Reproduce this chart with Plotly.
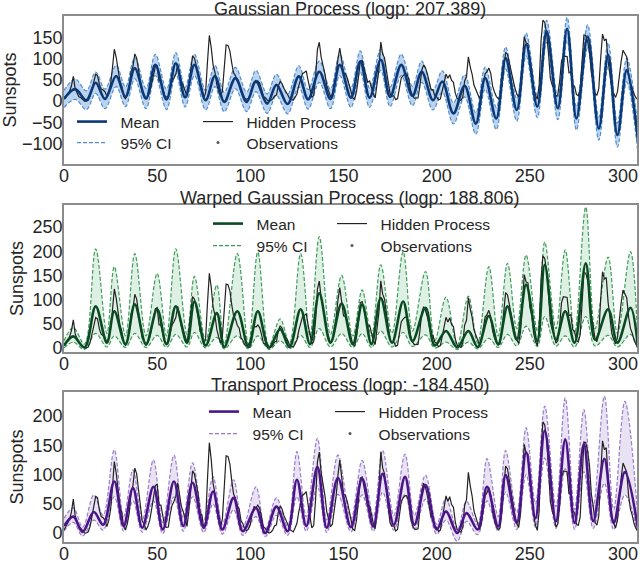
import plotly.graph_objects as go

# ---------------- data ----------------
# hidden process: yearly sunspot numbers, index 0..308
hidden = [
    5.0, 11.0, 16.0, 23.0, 36.0, 58.0, 29.0, 20.0, 10.0, 8.0,
    3.0, 0.0, 0.0, 2.0, 11.0, 27.0, 47.0, 63.0, 60.0, 39.0,
    28.0, 26.0, 22.0, 11.0, 21.0, 40.0, 78.0, 122.0, 103.0, 73.0,
    47.0, 35.0, 11.0, 5.0, 16.0, 34.0, 70.0, 81.0, 111.0, 101.0,
    73.0, 40.0, 20.0, 16.0, 5.0, 11.0, 22.0, 40.0, 60.0, 80.9,
    83.4, 47.7, 47.8, 30.7, 12.2, 9.6, 10.2, 32.4, 47.6, 54.0,
    62.9, 85.9, 61.2, 45.1, 36.4, 20.9, 11.4, 37.8, 69.8, 106.1,
    100.8, 81.6, 66.5, 34.8, 30.6, 7.0, 19.8, 92.5, 154.4, 125.9,
    84.8, 68.1, 38.5, 22.8, 10.2, 24.1, 82.9, 132.0, 130.9, 118.1,
    89.9, 66.6, 60.0, 46.9, 41.0, 21.3, 16.0, 6.4, 4.1, 6.8,
    14.5, 34.0, 45.0, 43.1, 47.5, 42.2, 28.1, 10.1, 8.1, 2.5,
    0.0, 1.4, 5.0, 12.2, 13.9, 35.4, 45.8, 41.1, 30.1, 23.9,
    15.6, 6.6, 4.0, 1.8, 8.5, 16.6, 36.3, 49.6, 64.2, 67.0,
    70.9, 47.8, 27.5, 8.5, 13.2, 56.9, 121.5, 138.3, 103.2, 85.7,
    64.6, 36.7, 24.2, 10.7, 15.0, 40.1, 61.5, 98.5, 124.7, 96.3,
    66.6, 64.5, 54.1, 39.0, 20.6, 6.7, 4.3, 22.7, 54.8, 93.8,
    95.8, 77.2, 59.1, 44.0, 47.0, 30.5, 16.3, 7.3, 37.6, 74.0,
    139.0, 111.2, 101.6, 66.2, 44.7, 17.0, 11.3, 12.4, 3.4, 6.0,
    32.3, 54.3, 59.7, 63.7, 63.5, 52.2, 25.4, 13.1, 6.8, 6.3,
    7.1, 35.6, 73.0, 85.1, 78.0, 64.0, 41.8, 26.2, 26.7, 12.1,
    9.5, 2.7, 5.0, 24.4, 42.0, 63.5, 53.8, 62.0, 48.5, 43.9,
    18.6, 5.7, 3.6, 1.4, 9.6, 47.4, 57.1, 103.9, 80.6, 63.6,
    37.6, 26.1, 14.2, 5.8, 16.7, 44.3, 63.9, 69.0, 77.8, 64.9,
    35.7, 21.2, 11.1, 5.7, 8.7, 36.1, 79.7, 114.4, 109.6, 88.8,
    67.8, 47.5, 30.6, 16.3, 9.6, 33.2, 92.6, 151.6, 136.3, 134.7,
    83.9, 69.4, 31.5, 13.9, 4.4, 38.0, 141.7, 190.2, 184.8, 159.0,
    112.3, 53.9, 37.6, 27.9, 10.2, 15.1, 47.0, 93.8, 105.9, 105.5,
    104.5, 66.6, 68.9, 38.0, 34.5, 15.5, 12.6, 27.5, 92.5, 155.4,
    154.6, 140.4, 115.9, 66.6, 45.9, 17.9, 13.4, 29.4, 100.2, 157.6,
    142.6, 145.7, 94.3, 54.6, 29.9, 17.5, 8.6, 21.5, 64.3, 93.3,
    119.6, 111.0, 104.0, 63.7, 40.4, 29.8, 15.2, 7.5, 2.9,
]
hidden_x = list(range(len(hidden)))

# Gaussian process: mean and 95% CI read at peaks / troughs
gp_x = [0, 6, 12, 17, 22, 28, 33, 38, 44, 49, 55, 60, 65, 70, 76, 81, 86, 92, 98, 103,
        109, 114, 120, 126, 131, 137, 143, 148, 154, 159, 164, 170, 175, 181, 187, 192, 198, 203, 209, 215,
        221, 226, 232, 237, 243, 248, 254, 259, 265, 270, 275, 281, 287, 292, 297, 302, 308]
gp_mean = [5, 28, 2, 43, 5, 59, 10, 77, 6, 85, 4, 89, 9, 85, 2, 59, -2, 54, -2, 47,
           -6, 38, -7, 58, 4, 69, 5, 85, 8, 93, 8, 97, 10, 85, 12, 69, 2, 46, -29, 36,
           -53, 54, -41, 101, -21, 133, -13, 164, -17, 170, -41, 152, -65, 109, -80, 73, -92]
gp_upper = [25, 52, 24, 68, 28, 84, 33, 102, 30, 110, 28, 114, 32, 110, 25, 84, 21, 79, 21, 72,
            17, 63, 16, 83, 27, 94, 28, 110, 31, 118, 31, 122, 33, 110, 35, 94, 25, 71, -4, 62,
            -28, 80, -15, 127, 5, 160, 13, 190, 10, 197, -14, 179, -38, 137, -52, 101, -62]
gp_lower = [-15, 4, -20, 18, -18, 34, -13, 52, -18, 60, -20, 64, -14, 60, -21, 34, -25, 29, -25, 22,
            -29, 13, -30, 33, -19, 44, -18, 60, -15, 68, -15, 72, -13, 60, -11, 44, -21, 21, -54, 10,
            -78, 28, -67, 75, -47, 106, -39, 138, -44, 143, -68, 125, -92, 81, -108, 45, -122]

# Warped Gaussian process
wgp_x = [0, 5, 11, 17, 23, 27, 33, 38, 44, 50, 55, 60, 66, 70, 76, 82, 86, 93, 99, 104,
         110, 116, 121, 127, 132, 137, 143, 149, 155, 160, 165, 170, 176, 182, 187, 194, 199, 205, 211, 217,
         222, 228, 233, 238, 243, 248, 254, 258, 264, 269, 274, 280, 285, 292, 297, 304, 308]
wgp_mean = [5, 24, 1, 86, 11, 76, 8, 90, 8, 80, 8, 86, 11, 96, 5, 72, 2, 76, 2, 76,
            1, 39, 2, 80, 8, 113, 11, 92, 8, 90, 8, 103, 11, 96, 14, 83, 5, 35, 1, 35,
            2, 66, 8, 86, 17, 131, 14, 172, 17, 76, 11, 175, 17, 80, 11, 83, 1]
wgp_upper = [15, 42, 8, 205, 30, 168, 25, 195, 25, 154, 25, 205, 28, 148, 15, 130, 8, 195, 8, 198,
             5, 60, 10, 195, 25, 230, 28, 150, 25, 120, 25, 172, 30, 199, 35, 158, 15, 105, 5, 107,
             10, 168, 25, 175, 40, 192, 35, 219, 40, 203, 30, 291, 40, 188, 30, 199, 8]
wgp_lower = [0, 12, -3, 30, 2, 25, 1, 30, 1, 26, 1, 28, 2, 32, 0, 22, -2, 25, -2, 25,
             -3, 15, -2, 26, 1, 40, 2, 30, 1, 30, 1, 35, 2, 32, 3, 27, 0, 12, -3, 12,
             -2, 20, 1, 28, 4, 45, 3, 65, 4, 25, 2, 65, 4, 26, 2, 28, -3]

# Transport process
tp_x = [0, 5, 10, 16, 21, 27, 32, 37, 42, 48, 53, 59, 64, 69, 75, 80, 85, 91, 96, 103,
        108, 114, 120, 125, 130, 136, 141, 147, 154, 160, 166, 171, 177, 183, 188, 194, 200, 205, 211, 216,
        222, 227, 233, 237, 243, 248, 253, 258, 264, 269, 274, 279, 284, 290, 295, 301, 308]
tp_mean = [12, 28, 2, 36, 14, 88, 12, 77, 9, 79, 6, 88, 12, 86, 9, 71, 6, 60, 3, 43,
           0, 45, 3, 91, 12, 113, 9, 94, 10, 93, 11, 101, 14, 96, 14, 82, 6, 37, 0, 34,
           6, 79, 11, 99, 17, 138, 25, 175, 20, 160, 17, 152, 20, 127, 17, 104, 8]
tp_upper = [25, 43, 10, 65, 30, 142, 28, 108, 22, 125, 18, 133, 25, 120, 22, 96, 15, 91, 10, 79,
            6, 60, 12, 139, 28, 162, 22, 133, 25, 124, 28, 141, 30, 135, 30, 99, 15, 59, 5, 54,
            15, 127, 28, 141, 35, 180, 50, 217, 45, 231, 40, 211, 45, 234, 40, 225, 25]
tp_lower = [3, 18, -5, 22, 5, 62, 3, 55, 1, 55, -1, 62, 3, 62, 1, 50, -2, 40, -4, 28,
            -6, 30, -4, 62, 3, 80, 1, 66, 2, 65, 3, 70, 5, 66, 5, 58, -2, 22, -14, 20,
            -3, 55, 3, 70, 6, 100, 10, 128, 8, 110, 6, 105, 8, 85, 6, 65, 0]

titles = ["Gaussian Process (logp: 207.389)",
          "Warped Gaussian Process (logp: 188.806)",
          "Transport Process (logp: -184.450)"]
legend_names = ["Mean", "95% CI", "Hidden Process", "Observations"]
x_ticks = [0, 50, 100, 150, 200, 250, 300]
y_ticks = [[-100, -50, 0, 50, 100, 150],
           [0, 50, 100, 150, 200, 250],
           [0, 50, 100, 150, 200]]

# ---------------- style ----------------
FONT = "Liberation Sans, Arial, sans-serif"
TXT = "#262626"
W, H = 640, 585
NB = "\u00a0\u00a0"
panels = [
    dict(x=gp_x, mean=gp_mean, up=gp_upper, lo=gp_lower,
         mean_c="#0b3877", ci_c="#4f8fd0", fill="rgba(85,145,215,0.4)",
         yrange=[-148, 200], dom=[0.7197, 0.9726],
         col_px=[72, 198], row_px=[122, 143]),
    dict(x=wgp_x, mean=wgp_mean, up=wgp_upper, lo=wgp_lower,
         mean_c="#0a4a22", ci_c="#3f9d5c", fill="rgba(70,165,100,0.18)",
         yrange=[-8.3, 295.5], dom=[0.3983, 0.6496],
         col_px=[208, 332], row_px=[224, 246]),
    dict(x=tp_x, mean=tp_mean, up=tp_upper, lo=tp_lower,
         mean_c="#4b1589", ci_c="#9a7dcb", fill="rgba(140,110,195,0.2)",
         yrange=[-15.4, 241], dom=[0.0735, 0.3299],
         col_px=[204, 330], row_px=[412, 434]),
]

fig = go.Figure()
layout = dict(
    width=W, height=H,
    margin=dict(l=0, r=0, t=0, b=0, autoexpand=False),
    paper_bgcolor="white", plot_bgcolor="white",
    font=dict(family=FONT, color=TXT, size=18),
    annotations=[],
)

lg = 0
for i, p in enumerate(panels):
    n = "" if i == 0 else str(i + 1)
    xa, ya = "x" + n, "y" + n
    # one legend per entry: Mean, CI (column 1), Hidden, Observations (column 2)
    names = []
    for k in range(4):
        lg += 1
        lname = "legend" if lg == 1 else "legend" + str(lg)
        names.append(lname)
        cx = p["col_px"][k // 2]
        cy = p["row_px"][k % 2]
        layout[lname] = dict(x=cx / W, y=1 - cy / H, xanchor="left", yanchor="middle",
                             bgcolor="rgba(0,0,0,0)", borderwidth=0, traceorder="normal",
                             font=dict(family=FONT, size=15.5, color=TXT), itemwidth=30)
    # CI band
    fig.add_trace(go.Scatter(x=p["x"], y=p["lo"], xaxis=xa, yaxis=ya, mode="lines",
                             line=dict(color=p["ci_c"], width=1.2, dash="4px,2px", shape="spline", smoothing=1),
                             showlegend=False, hoverinfo="skip"))
    fig.add_trace(go.Scatter(x=p["x"], y=p["up"], xaxis=xa, yaxis=ya, mode="lines",
                             line=dict(color=p["ci_c"], width=1.2, dash="4px,2px", shape="spline", smoothing=1),
                             fill="tonexty", fillcolor=p["fill"], showlegend=False))
    # hidden process
    fig.add_trace(go.Scatter(x=hidden_x, y=hidden, xaxis=xa, yaxis=ya, mode="lines",
                             line=dict(color="#222222", width=1.2),
                             name=NB + legend_names[2], legend=names[2]))
    # mean
    fig.add_trace(go.Scatter(x=p["x"], y=p["mean"], xaxis=xa, yaxis=ya, mode="lines",
                             line=dict(color=p["mean_c"], width=2.6, shape="spline", smoothing=1),
                             name=NB + legend_names[0], legend=names[0]))
    # legend-only entries
    fig.add_trace(go.Scatter(x=[None], y=[None], xaxis=xa, yaxis=ya, mode="lines",
                             line=dict(color=p["ci_c"], width=1.2, dash="4px,2px"),
                             name=NB + legend_names[1], legend=names[1]))
    fig.add_trace(go.Scatter(x=[None], y=[None], xaxis=xa, yaxis=ya, mode="markers",
                             marker=dict(color="#555555", size=3),
                             name=NB + legend_names[3], legend=names[3]))

    axis_common = dict(showline=True, mirror=True, linecolor="#8c8c8c", linewidth=1.6,
                       showgrid=False, zeroline=False, ticks="", automargin=False,
                       tickfont=dict(family=FONT, size=18, color=TXT))
    layout["xaxis" + n] = dict(axis_common, domain=[0.1, 0.9953], range=[0, 307.5],
                               tickvals=x_ticks, anchor=ya, ticklabelstandoff=-5)
    layout["yaxis" + n] = dict(axis_common, domain=p["dom"], range=p["yrange"],
                               tickvals=y_ticks[i], anchor=xa, ticklabelstandoff=-4,
                               title=dict(text="Sunspots", font=dict(family=FONT, size=18, color=TXT),
                                          standoff=4))
    layout["annotations"].append(dict(
        text=titles[i], x=(0.1 + 0.9953) / 2, xref="paper", xanchor="center",
        y=p["dom"][1], yref="paper", yanchor="bottom", yshift=-5, showarrow=False,
        font=dict(family=FONT, size=18, color=TXT)))

fig.update_layout(**layout)
fig.write_html("out.html", post_script="document.body.style.margin='0px';",
               config={"displayModeBar": False})
